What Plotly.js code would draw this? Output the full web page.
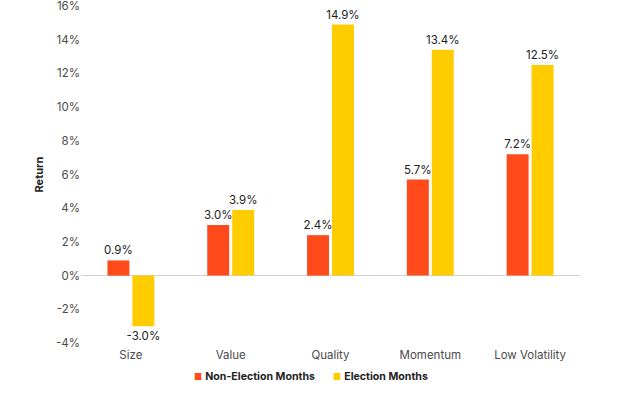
<!DOCTYPE html>
<html><head><meta charset="utf-8">
<script src="https://cdn.plot.ly/plotly-3.0.1.min.js"></script>
<style>html,body{margin:0;padding:0;background:#fff}#chart{width:620px;height:398px}</style>
</head><body><div id="chart"></div>
<script>
const categories = ["Size", "Value", "Quality", "Momentum", "Low Volatility"];
const nonElection = [0.9, 3.0, 2.4, 5.7, 7.2];
const election = [-3.0, 3.9, 14.9, 13.4, 12.5];
const seriesNames = ["Non-Election Months", "Election Months"];
const seriesColors = ["#FF4A1C", "#FFCC00"];
const tickVals = [-4, -2, 0, 2, 4, 6, 8, 10, 12, 14, 16];

const fam = "Inter, 'Open Sans', sans-serif";
const fnt = {family: fam, size: 11.5, color: "#4a4a4a"};
function mk(vals, name, color) {
  return {type: "bar", x: categories, y: vals, name: name,
    marker: {color: color}, showlegend: false,
    text: vals.map(v => v.toFixed(1) + "%"), textposition: "outside",
    constraintext: "none",
    textfont: {family: fam, size: 11.5, color: "#222"}, cliponaxis: false,
    hoverinfo: "none"};
}
const data = [mk(nonElection, seriesNames[0], seriesColors[0]), mk(election, seriesNames[1], seriesColors[1])];
const legendX = [0.222, 0.5];
const annotations = seriesNames.map((n, i) => ({
  xref: "paper", yref: "paper", x: legendX[i], y: -0.1, xanchor: "left", yanchor: "middle",
  showarrow: false,
  text: "<span style='color:" + seriesColors[i] + ";font-size:9px'>■</span> <b>" + n + "</b>",
  font: {family: fam, size: 10.6, color: "#222"}
}));
const layout = {
  width: 620, height: 398,
  margin: {l: 81, r: 40, t: 6, b: 55, autoexpand: false},
  paper_bgcolor: "#fff", plot_bgcolor: "#fff",
  barmode: "group", bargap: 0.5, bargroupgap: 0.12,
  font: fnt,
  xaxis: {showgrid: false, showline: false, ticks: "", tickfont: fnt, zeroline: false, automargin: false,
    ticklabelstandoff: 3},
  yaxis: {range: [-4, 16], tickvals: tickVals, ticktext: tickVals.map(v => v + "%"),
    showgrid: false, zeroline: true, zerolinecolor: "#d0d0d0", zerolinewidth: 1,
    showline: false, ticks: "", ticklen: 0, tickfont: fnt, automargin: false,
    ticklabeloverflow: "allow",
    title: {text: "<b>Return</b>", font: {family: fam, size: 11, color: "#222"}, standoff: 10}},
  annotations: annotations,
  showlegend: false
};
Plotly.newPlot("chart", data, layout, {displayModeBar: false, staticPlot: true});
</script></body></html>
